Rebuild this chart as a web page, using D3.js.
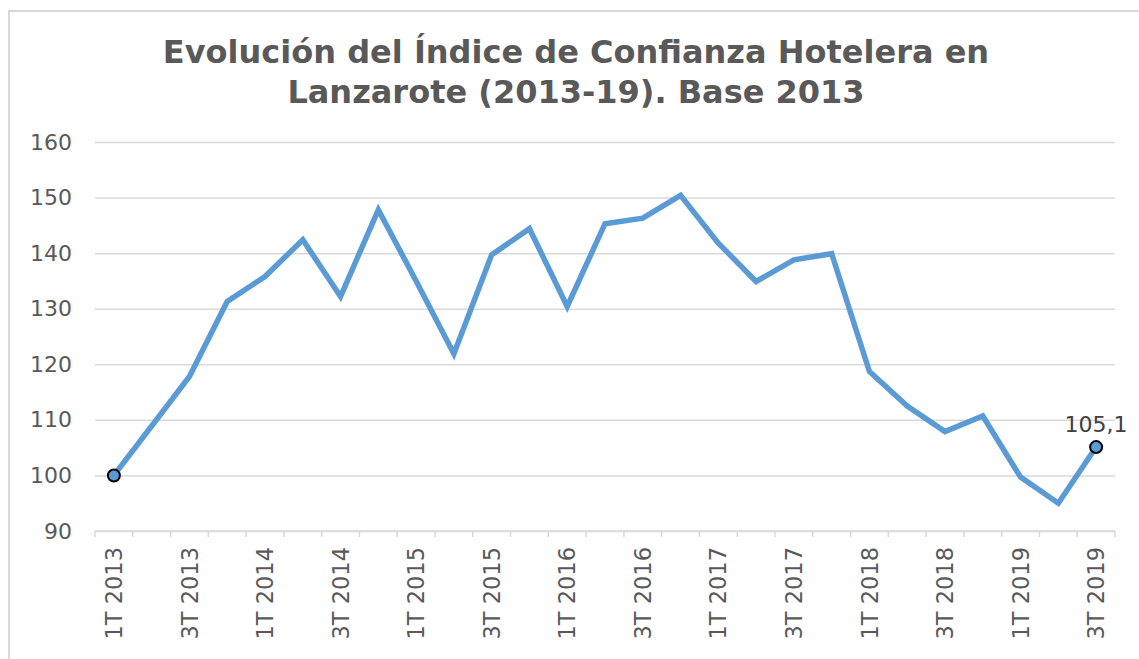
<!DOCTYPE html>
<meta charset="utf-8">
<script src="https://d3js.org/d3.v7.min.js"></script>
<style>
  body { margin: 0; background: #fff; }
</style>
<div id="chart"></div>
<script>

// quarters (all 27) and the index values
var quarters = ["1T 2013","2T 2013","3T 2013","4T 2013",
                "1T 2014","2T 2014","3T 2014","4T 2014",
                "1T 2015","2T 2015","3T 2015","4T 2015",
                "1T 2016","2T 2016","3T 2016","4T 2016",
                "1T 2017","2T 2017","3T 2017","4T 2017",
                "1T 2018","2T 2018","3T 2018","4T 2018",
                "1T 2019","2T 2019","3T 2019"];
var indice = [100, 108.9, 117.8, 131.3, 135.8, 142.4, 132.2, 147.8, 135.0, 121.9,
              139.7, 144.4, 130.4, 145.3, 146.3, 150.4, 141.8, 134.9, 138.8, 139.9,
              118.7, 112.5, 107.9, 110.7, 99.7, 95.0, 105.1];
var yTicks = [90, 100, 110, 120, 130, 140, 150, 160];
var titleLines = ["Evolución del Índice de Confianza Hotelera en", "Lanzarote (2013-19). Base 2013"];

var width = 1139, height = 659;
var margin = {top: 142, right: 24, bottom: 128, left: 95};
var w = width - margin.left - margin.right,
    h = 531 - margin.top;

var svg = d3.select("#chart")
  .append("svg")
    .attr("width", width)
    .attr("height", height);

// chart area frame
svg.append("rect")
  .attr("x", 9).attr("y", 11)
  .attr("width", width + 20).attr("height", height + 20)
  .style("fill", "#fff")
  .style("stroke", "#d9d9d9")
  .style("stroke-width", 2);

// title
svg.append("text")
  .attr("x", 576).attr("y", 63)
  .style("text-anchor", "middle")
  .style("font-family", "DejaVu Sans")
  .style("font-weight", "bold")
  .style("font-size", "32px")
  .style("fill", "#595959")
  .selectAll("tspan")
  .data(titleLines)
  .enter()
  .append("tspan")
    .attr("x", 576)
    .attr("dy", function(d, i) { return i == 0 ? 0 : 40; })
    .text(function(d) { return d; });

var g = svg.append("g")
  .attr("transform", "translate(" + margin.left + "," + margin.top + ")");

var x = d3.scaleBand()
  .domain(quarters)
  .range([0, w]);

var y = d3.scaleLinear()
  .domain([90, 160])
  .range([h, 0]);

// gridlines + y labels
var yAxis = g.append("g")
  .call(d3.axisLeft(y).tickValues(yTicks).tickSize(-w).tickPadding(23));
yAxis.select(".domain").remove();
yAxis.selectAll(".tick line")
  .style("stroke", "#d9d9d9")
  .style("stroke-width", 1.5);
yAxis.selectAll(".tick text")
  .style("font-family", "DejaVu Sans")
  .style("font-size", "22px")
  .style("fill", "#595959");

// x axis: ticks on the category boundaries
var xg = g.append("g")
  .attr("transform", "translate(0," + h + ")");
xg.append("line")
  .attr("x1", 0).attr("x2", w)
  .style("stroke", "#d9d9d9")
  .style("stroke-width", 1.5);
xg.selectAll(".bound")
  .data(d3.range(quarters.length + 1))
  .enter()
  .append("line")
    .attr("x1", function(i) { return i * x.step(); })
    .attr("x2", function(i) { return i * x.step(); })
    .attr("y1", 0).attr("y2", 6)
    .style("stroke", "#d9d9d9")
    .style("stroke-width", 1.5);

// only every other quarter is labelled
xg.selectAll(".lab")
  .data(quarters.filter(function(d, i) { return i % 2 == 0; }))
  .enter()
  .append("text")
    .attr("transform", function(d) {
      return "translate(" + (x(d) + x.bandwidth() / 2) + ",16) rotate(-90)";
    })
    .attr("dy", "0.36em")
    .style("text-anchor", "end")
    .style("font-family", "DejaVu Sans")
    .style("font-size", "22.5px")
    .style("fill", "#595959")
    .text(function(d) { return d; });

var data = quarters.map(function(q, i) { return {q: q, v: indice[i]}; });

g.append("path")
  .datum(data)
  .attr("d", d3.line()
    .x(function(d) { return x(d.q) + x.bandwidth() / 2; })
    .y(function(d) { return y(d.v); })
  )
  .style("fill", "none")
  .style("stroke", "#5b9bd5")
  .style("stroke-width", 5.5);

// markers on first and last point
var ends = [data[0], data[data.length - 1]];
g.selectAll(".dot")
  .data(ends)
  .enter()
  .append("circle")
    .attr("cx", function(d) { return x(d.q) + x.bandwidth() / 2; })
    .attr("cy", function(d) { return y(d.v); })
    .attr("r", 6)
    .style("fill", "#5b9bd5")
    .style("stroke", "#000")
    .style("stroke-width", 2);

g.append("text")
  .datum(data[data.length - 1])
  .attr("x", function(d) { return x(d.q) + x.bandwidth() / 2; })
  .attr("y", function(d) { return y(d.v) - 15; })
  .style("text-anchor", "middle")
  .style("font-family", "DejaVu Sans")
  .style("font-size", "22px")
  .style("fill", "#404040")
  .text(function(d) { return String(d.v).replace(".", ","); });

</script>
